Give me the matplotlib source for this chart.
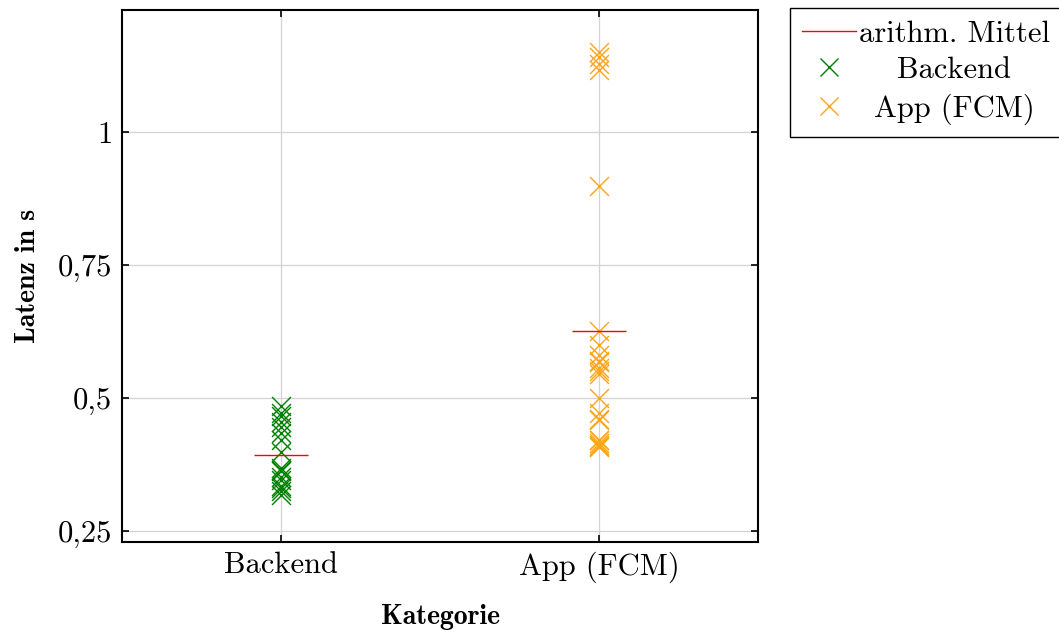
import matplotlib
matplotlib.use("Agg")
import matplotlib.pyplot as plt
import numpy as np
from matplotlib.lines import Line2D

categories = ["Backend", "App (FCM)"]

# latencies in s
backend = [0.484, 0.471, 0.465, 0.455, 0.445, 0.434, 0.421, 0.399, 0.368, 0.365,
           0.362, 0.352, 0.345, 0.335, 0.330, 0.325, 0.318]
app = [1.150, 1.140, 1.127, 1.117, 0.899, 0.626, 0.600, 0.580, 0.570, 0.567,
       0.556, 0.550, 0.545, 0.500, 0.472, 0.460, 0.458, 0.420, 0.420, 0.415,
       0.412, 0.410, 0.408]

yticks = [0.25, 0.5, 0.75, 1.0]
ytick_labels = ["0,25", "0,5", "0,75", "1"]

colors = ["green", "#ffa319"]

plt.rcParams["font.family"] = "cmr10"
plt.rcParams["mathtext.fontset"] = "cm"
plt.rcParams["axes.unicode_minus"] = False

fig = plt.figure(figsize=(10.59, 6.33), dpi=100)
ax = fig.add_axes([0.1152, 0.1438, 0.6006, 0.8404])

data = [backend, app]
for i, (vals, c, name) in enumerate(zip(data, colors, categories)):
    xs = np.full(len(vals), i + 1)
    ax.scatter(xs, vals, marker="x", s=185, color=c, linewidths=1.0, zorder=3)
    ax.hlines(np.mean(vals), i + 1 - 0.085, i + 1 + 0.085, color="red", linewidth=1.0, zorder=4)

ax.set_xlim(0.5, 2.5)
ax.set_ylim(0.229, 1.229)
ax.set_xticks([1, 2])
ax.set_xticklabels(categories)
ax.set_yticks(yticks)
ax.set_yticklabels(ytick_labels)
ax.tick_params(direction="in", top=True, right=True, length=5, width=1.2, labelsize=22, pad=7)
ax.grid(True, color="#d3d3d3", linewidth=0.9)
ax.set_axisbelow(True)
for s in ax.spines.values():
    s.set_linewidth(1.5)

ax.set_xlabel("Kategorie", fontsize=20, fontfamily="cmb10", labelpad=15)
ax.set_ylabel("Latenz in s", fontsize=20, fontfamily="cmb10", labelpad=12)

handles = [Line2D([], [], color="red", linewidth=1.0),
           Line2D([], [], color=colors[0], marker="x", linestyle="none", markersize=13, markeredgewidth=1.0),
           Line2D([], [], color=colors[1], marker="x", linestyle="none", markersize=13, markeredgewidth=1.0)]
leg = ax.legend(handles, ["arithm. Mittel"] + categories, loc="upper left",
                bbox_to_anchor=(1.05, 1.004), fontsize=22, frameon=True, fancybox=False,
                edgecolor="black", framealpha=1, borderaxespad=0, handlelength=1.75,
                handletextpad=0.1, labelspacing=0.3, borderpad=0.4)
leg.get_frame().set_linewidth(1.0)

# center the legend labels like in the original
fig.canvas.draw()
r = fig.canvas.get_renderer()
widths = [t.get_window_extent(r).width for t in leg.get_texts()]
wmax = max(widths)
for t, w in zip(leg.get_texts(), widths):
    t.set_position(((wmax - w) / 2, 0))

fig.savefig("out.png", dpi=100)
